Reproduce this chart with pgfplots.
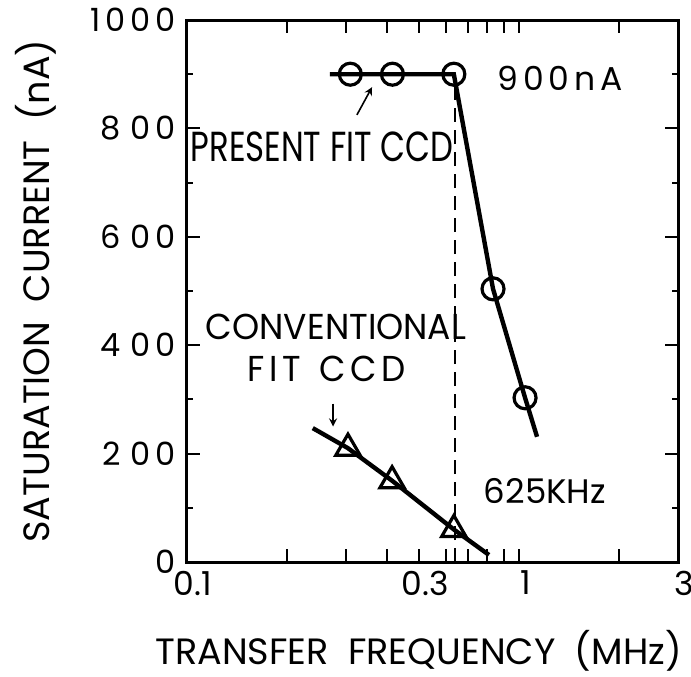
\documentclass[border=0pt]{standalone}
\usepackage{pgfplots}
\pgfplotsset{compat=1.18}
\usepackage{fontspec}
\setmainfont{Poppins}
\newcommand{\dsp}{\hspace{2.5pt}}
\begin{document}
\begin{tikzpicture}
\begin{axis}[
  at={(93.5pt,57pt)}, anchor=south west,
  scale only axis, width=245.5pt, height=271pt,
  xmode=log, xmin=0.1, xmax=3, ymin=0, ymax=1000,
  xtick={0.1,0.2,0.3,0.4,0.5,0.6,0.7,0.8,0.9,1,2,3},
  xticklabels={0.1,,,,0.3,,,,,1,,3},
  xminorticks=false,
  ytick={0,200,400,600,800,1000},
  minor ytick={100,300,500,700,900},
  yticklabels={0,2\dsp\dsp0\dsp0,4\dsp\dsp0\dsp0,6\dsp\dsp0\dsp0,8\dsp\dsp0\dsp0,1\dsp0\dsp0\dsp0},
  major tick length=6.5pt,
  minor tick length=3pt,
  tick align=inside,
  every tick/.style={black, line width=1pt},
  axis line style={line width=1.5pt},
  yticklabel style={font=\fontsize{16}{16}\selectfont, xshift=-2pt},
  xticklabel style={font=\fontsize{16.5}{16.5}\selectfont, yshift=-1pt, xshift=3pt},
  /pgf/number format/assume math mode=true,
  xlabel={TRANSFER\ \ FREQUENCY\ \ (MHz)},
  ylabel={SATURATION\ \ CURRENT\ \ (nA)},
  label style={font=\fontsize{18.3}{18.3}\selectfont},
  xlabel style={at={(axis description cs:0.5,0)}, anchor=center, yshift=-44.5pt, xshift=-7pt},
  ylabel style={at={(axis description cs:-0.3075,0.5)}, anchor=center},
  clip=false,
]
\draw[line width=1.5pt] (rel axis cs:0,0) rectangle (rel axis cs:1,1);
% fitted lines
\addplot[black, line width=2.2pt] coordinates {(0.269,900) (0.635,900) (0.833,504) (1.04,303) (1.13,231)};
\addplot[black, line width=2.2pt] coordinates {(0.239,247) (0.305,210) (0.414,150) (0.635,60) (0.81,13)};
% points
\addplot[only marks, mark=o, mark size=5.5pt, mark options={line width=1.6pt, fill=white}] coordinates {(0.31,900) (0.415,900) (0.635,900) (0.833,504) (1.04,303)};
\addplot[only marks, mark=triangle, mark size=7pt, mark options={line width=1.6pt, fill=white}] coordinates {(0.305,210) (0.414,150) (0.635,60)};
% 625 kHz marker
\addplot[black, line width=1.1pt, dash pattern=on 7pt off 4pt] coordinates {(0.64,0) (0.64,880)};
\node[font=\fontsize{16.5}{16.5}\selectfont] at (axis cs:1.325,892) {9\dsp0\dsp0\dsp n\dsp A};
\node[anchor=west, font=\fontsize{17}{17}\selectfont] at (axis cs:0.745,131) {625KHz};
\node[font=\fontsize{21}{21}\selectfont, xscale=0.77] at (axis cs:0.2547,766) {PRESENT FIT CCD};
\draw[-stealth, line width=0.8pt] (axis cs:0.3245,825) -- (axis cs:0.3603,876);
\node[font=\fontsize{18}{18}\selectfont, xscale=0.96] at (axis cs:0.2807,433) {CONVENTIONAL};
\node[font=\fontsize{18}{18}\selectfont, xscale=0.95] at (axis cs:0.263,356) {F\dsp I\dsp T\ \ C\dsp C\dsp D};
\draw[-stealth, line width=0.8pt] (axis cs:0.275,292) -- (axis cs:0.275,250);
\end{axis}
\pgfresetboundingbox
\useasboundingbox (0,0) rectangle (345.5pt,338pt);
\end{tikzpicture}
\end{document}
